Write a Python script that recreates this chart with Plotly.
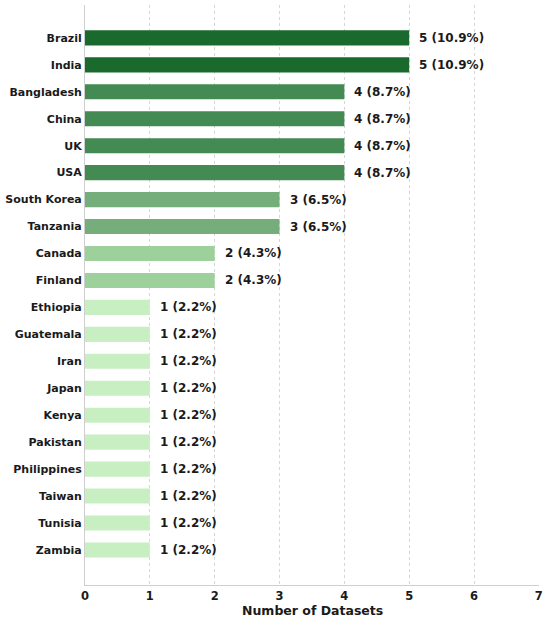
import plotly.graph_objects as go

countries = ["Brazil", "India", "Bangladesh", "China", "UK", "USA", "South Korea",
             "Tanzania", "Canada", "Finland", "Ethiopia", "Guatemala", "Iran", "Japan",
             "Kenya", "Pakistan", "Philippines", "Taiwan", "Tunisia", "Zambia"]
counts = [5, 5, 4, 4, 4, 4, 3, 3, 2, 2, 1, 1, 1, 1, 1, 1, 1, 1, 1, 1]
color_by_count = {5: "#1a6a2e", 4: "#438b53", 3: "#76ae7b", 2: "#9dd09a", 1: "#c7efc1"}
x_ticks = [0, 1, 2, 3, 4, 5, 6, 7]

total = sum(counts)
ypos = list(range(len(countries)))
colors = [color_by_count[c] for c in counts]
labels = [f"{c} ({c / total * 100:.1f}%)" for c in counts]

FONT = "DejaVu Sans"

fig = go.Figure()
fig.add_trace(go.Bar(
    x=counts, y=ypos, orientation="h", width=0.56,
    marker=dict(color=colors, line=dict(width=0)),
    hoverinfo="skip",
))

annotations = [
    dict(x=c, y=y, text=f"<b>{t}</b>", xref="x", yref="y", xanchor="left",
         yanchor="middle", xshift=8, showarrow=False,
         font=dict(family=FONT, size=12, color="#1a1a1a"))
    for c, y, t in zip(counts, ypos, labels)
]
annotations.append(dict(
    x=0.5, y=0, xref="paper", yref="paper", xanchor="center", yanchor="middle",
    yshift=-25, showarrow=False, text="<b>Number of Datasets</b>",
    font=dict(family=FONT, size=12.5, color="#1a1a1a"),
))

fig.update_layout(
    width=550, height=620,
    margin=dict(l=85, r=11, t=5, b=35),
    plot_bgcolor="white", paper_bgcolor="white",
    showlegend=False,
    annotations=annotations,
    font=dict(family=FONT, size=11, color="#1a1a1a"),
    xaxis=dict(
        range=[0, 7.002], tickvals=x_ticks, ticktext=[f"<b>{v}</b>" for v in x_ticks],
        showgrid=True, gridcolor="#d6d6d6", griddash="dot", gridwidth=1,
        zeroline=False, showline=True, linecolor="#cfcfcf", linewidth=1,
        ticks="", automargin=False,
        tickfont=dict(family=FONT, size=11.5, color="#1a1a1a"),
    ),
    yaxis=dict(
        range=[20.3, -1.22], tickvals=ypos,
        ticktext=[f"<b>{c}</b>" for c in countries],
        showgrid=False, zeroline=False, showline=True, linecolor="#cfcfcf",
        linewidth=1, ticks="", ticklen=0, automargin=False,
        tickfont=dict(family=FONT, size=11, color="#1a1a1a"),
    ),
)

fig.write_html("out.html", config={"displayModeBar": False},
               post_script="document.body.style.margin='0';document.body.style.overflow='hidden';")
